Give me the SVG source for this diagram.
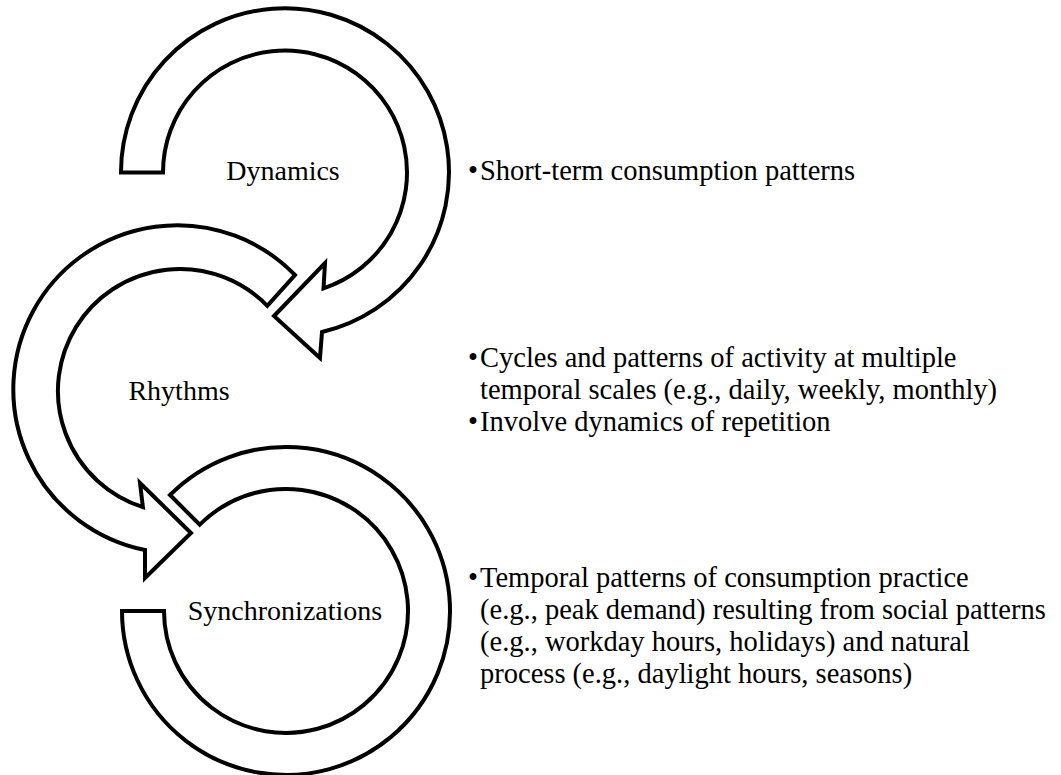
<svg xmlns="http://www.w3.org/2000/svg" width="1061" height="775" viewBox="0 0 1061 775">
  <style>
    .ring { fill: #ffffff; stroke: #000000; stroke-width: 4; stroke-linejoin: miter; }
    .label { font-family: "Liberation Serif", "Times New Roman", serif; font-size: 28px; fill: #000000; text-anchor: middle; }
    .note { font-family: "Liberation Serif", "Times New Roman", serif; font-size: 28.5px; fill: #000000; }
  </style>
  <rect width="1061" height="775" fill="#ffffff"/>

  <!-- circular arrows linking the three stages -->
  <g id="connectors">
    <!-- Dynamics loop: starts at the left, runs clockwise, head points down-left -->
    <path id="arrow-dynamics" class="ring" d="M121,172.5 A164,164 0 1 1 322,332 L320,358 L274,316 L325,263 L323.5,288.3 A122,122 0 1 0 163,172.5 Z"/>
    <!-- Rhythms loop: starts upper right, runs counter-clockwise, head points down-right -->
    <path id="arrow-rhythms" class="ring" d="M295,275 A164,164 0 1 0 145,550 L145,578 L191,533 L140,483 L142.9,507.2 A122,122 0 1 1 267.3,305.8 Z"/>
    <!-- Synchronizations loop: open ring, no head -->
    <path id="arrow-sync" class="ring" d="M170,495 A164,164 0 1 1 122,611 L164,611 A122,122 0 1 0 199.7,524.7 Z"/>
  </g>

  <g id="node-dynamics">
    <text class="label" x="283" y="180">Dynamics</text>
  </g>
  <g id="node-rhythms">
    <text class="label" x="179" y="400">Rhythms</text>
  </g>
  <g id="node-synchronizations">
    <text class="label" x="285" y="620">Synchronizations</text>
  </g>

  <g id="notes-dynamics">
    <text class="note" x="468" y="180">•</text>
    <text class="note" x="480" y="180">Short-term consumption patterns</text>
  </g>
  <g id="notes-rhythms">
    <text class="note" x="468" y="367">•</text>
    <text class="note" x="480" y="367">Cycles and patterns of activity at multiple</text>
    <text class="note" x="480" y="399">temporal scales (e.g., daily, weekly, monthly)</text>
    <text class="note" x="468" y="431">•</text>
    <text class="note" x="480" y="431">Involve dynamics of repetition</text>
  </g>
  <g id="notes-synchronizations">
    <text class="note" x="468" y="587">•</text>
    <text class="note" x="480" y="587">Temporal patterns of consumption practice</text>
    <text class="note" x="480" y="619">(e.g., peak demand) resulting from social patterns</text>
    <text class="note" x="480" y="651">(e.g., workday hours, holidays) and natural</text>
    <text class="note" x="480" y="683">process (e.g., daylight hours, seasons)</text>
  </g>
</svg>
